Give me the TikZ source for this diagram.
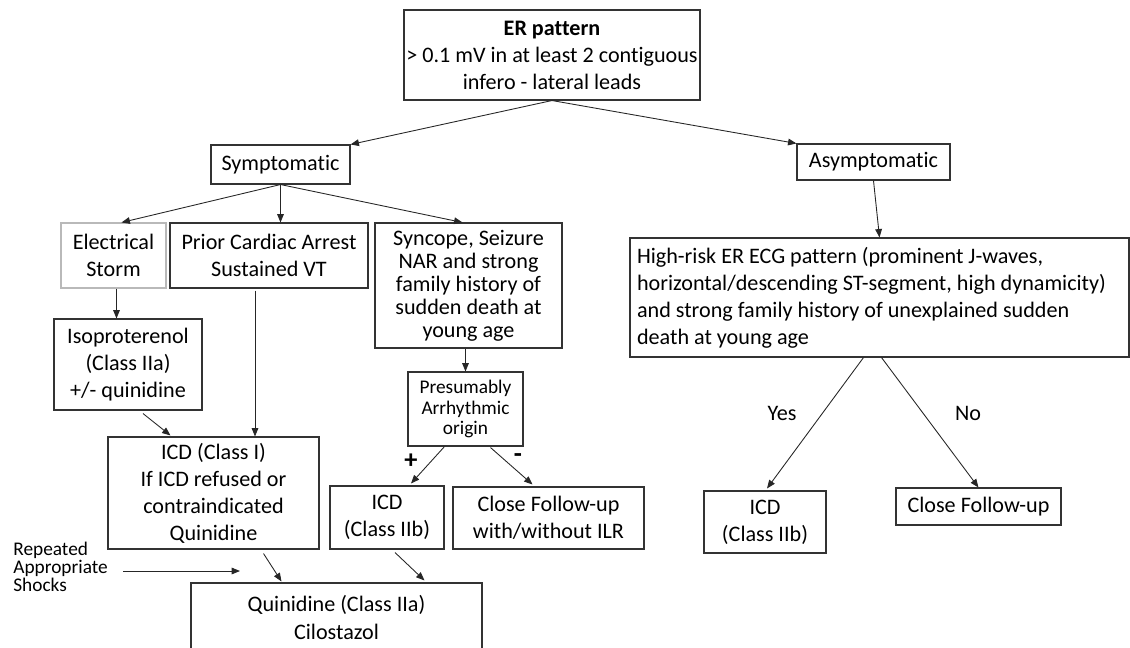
\documentclass[tikz,border=0pt]{standalone}
\usepackage{fontspec}
\setmainfont{Carlito}[Ligatures=NoCommon]
\usetikzlibrary{arrows.meta,calc}
\begin{document}
\begin{tikzpicture}[x=0.02cm, y=-0.02cm,
        font=\fontsize{12.6}{15.4}\selectfont,
        box/.style 2 args={draw=black!80, line width=0.6pt, align=center, inner sep=0pt,
            minimum width=#1*0.02cm, minimum height=#2*0.02cm},
        arr/.style={-{Triangle[length=4.8pt,width=3.8pt]}, line width=0.5pt, black!85}]
    \useasboundingbox (0,0) rectangle (1130,647);
    \node[box={296}{90}] (er) at (552,55) {\textbf{ER pattern}\\> 0.1 mV in at least 2 contiguous\\infero - lateral leads};
    \node[box={139}{39}] (sym) at (280.5,164.5) {Symptomatic};
    \node[box={153}{36}] (asym) at (873.5,162) {Asymptomatic};
    \node[box={105}{65}, draw=gray!55] (storm) at (113.5,255.5) {Electrical\\Storm};
    \node[box={198}{65}] (arrest) at (269,255.5) {Prior Cardiac Arrest\\Sustained VT};
    \node[box={187}{125}, font=\fontsize{12.6}{13.1}\selectfont] (sync) at (468.5,285.5) {Syncope, Seizure\\NAR and strong\\family history of\\sudden death at\\young age};
    \node[box={148}{91}] (iso) at (128,364.5) {Isoproterenol\\(Class IIa)\\+/- quinidine};
    \node[box={211}{112}] (icdI) at (213.5,493) {ICD (Class I)\\If ICD refused or\\contraindicated\\Quinidine};
    \node[box={115}{74}, font=\fontsize{11}{11.6}\selectfont] (pres) at (465.5,409) {Presumably\\Arrhythmic\\origin};
    \node[box={114}{63}] (icdL) at (387,517.5) {ICD\\(Class IIb)};
    \node[box={191}{62}] (closeL) at (548.5,518) {Close Follow-up\\with/without ILR};
    \node[box={291}{69}] (quin) at (336.5,617.5) {Quinidine (Class IIa)\\Cilostazol};
    \node[box={499}{119}, align=flush left, inner xsep=0.14cm, text width=9.7cm] (highrisk) at (879.5,297.5) {High-risk ER ECG pattern (prominent J-waves,\\horizontal/descending ST-segment, high dynamicity)\\and strong family history of unexplained sudden\\death at young age};
    \node[box={122}{62}] (icdR) at (765,522) {ICD\\(Class IIb)};
    \node[box={165}{37}] (closeR) at (978.5,506.5) {Close Follow-up};
    \node[align=left, anchor=west, inner sep=0pt, font=\fontsize{11}{10.3}\selectfont] (shocks) at (13,567) {Repeated\\Appropriate\\Shocks};
    \coordinate (shockend) at (240,571);
    \node[font=\fontsize{15}{15}\selectfont\bfseries] (plus) at (411,461) {+};
    \node[font=\fontsize{15}{15}\selectfont\bfseries] (minus) at (518,458) {-};
    \node (yes) at (782,413) {Yes};
    \node (no) at (968,413) {No};
    \draw[arr] (er.south) -- (sym.north east);
    \draw[arr] (er.south) -- (asym.north west);
    \draw[arr] (sym.south) -- ($(storm.north)+(8,0)$);
    \draw[arr] (sym.south) -- (sym.south |- arrest.north);
    \draw[arr] (sym.south) -- ($(sync.north)+(-6,0)$);
    \coordinate (stormout) at ($(storm.south)+(3,0)$);
    \draw[arr] (stormout) -- (stormout |- iso.north);
    \coordinate (arrestout) at ($(arrest.south)+(-14,2)$);
    \draw[arr] (arrestout) -- (arrestout |- icdI.north);
    \draw[arr] ($(iso.south)+(15,3)$) -- ($(icdI.north)+(-43,-1)$);
    \draw[arr] ($(icdI.south)+(50,4)$) -- ($(quin.north)+(-55,-1)$);
    \draw[arr] ($(icdL.south)+(8,3)$) -- ($(quin.north)+(88,-2)$);
    \draw[arr] ($(shocks.east)+(15,4)$) -- (shockend);
    \draw[arr] (pres.north |- sync.south) -- (pres.north);
    \draw[arr] ($(pres.south)+(-21,0)$) -- ($(icdL.north)+(24,-2)$);
    \draw[arr] ($(pres.south)+(25,1)$) -- ($(closeL.north)+(-16,-2)$);
    \draw[arr] (asym.south) -- (highrisk.north);
    \draw[arr] ($(highrisk.south)+(-16,0)$) -- ($(icdR.north)+(2,-2)$);
    \draw[arr] ($(highrisk.south)+(2,0)$) -- (closeR.north);
\end{tikzpicture}
\end{document}
